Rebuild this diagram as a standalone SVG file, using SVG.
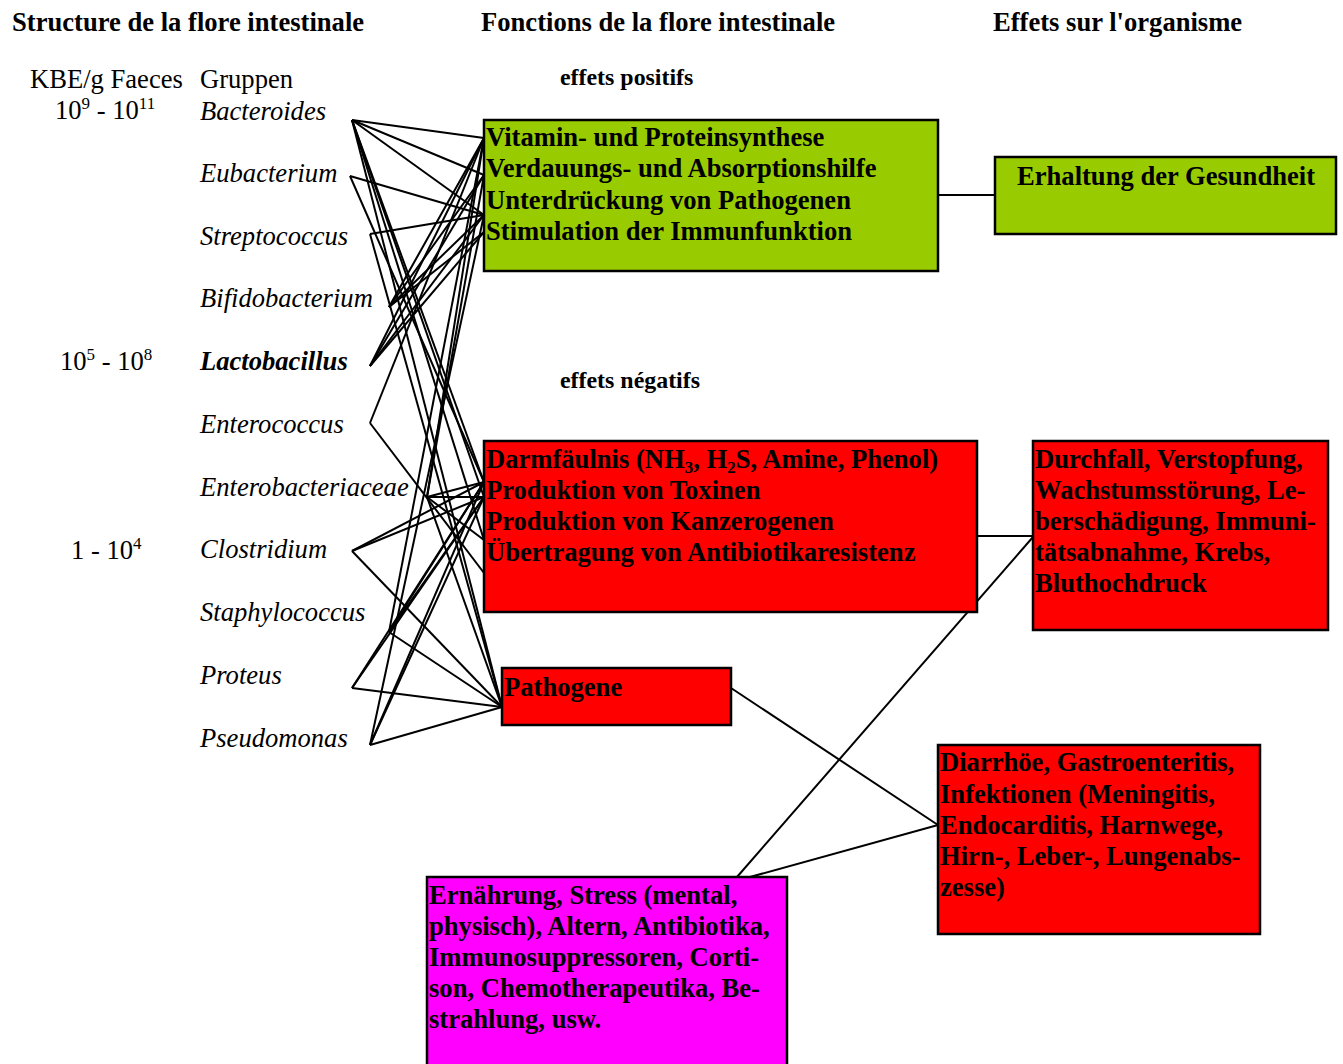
<svg xmlns="http://www.w3.org/2000/svg" width="1343" height="1064" viewBox="0 0 1343 1064">
<style>
text{font-family:"Liberation Serif","Times New Roman",serif;fill:#000}
.h{font-weight:bold;font-size:26.6px}
.b{font-weight:bold;font-size:26.6px}
.s{font-weight:bold;font-size:23.9px}
.r{font-size:26.6px}
.i{font-style:italic;font-size:26.6px}
.sup{font-size:17px}
.box{stroke:#000;stroke-width:2.5}
.c line{stroke:#000;stroke-width:2}
</style>
<rect width="1343" height="1064" fill="#fff"/>
<g id="headers">
<text class="h" x="12" y="31">Structure de la flore intestinale</text>
<text class="h" x="481" y="31">Fonctions de la flore intestinale</text>
<text class="h" x="993" y="31">Effets sur l'organisme</text>
<text class="s" x="560" y="85">effets positifs</text>
<text class="s" x="560" y="388">effets négatifs</text>
</g>
<g id="counts">
<text class="r" x="30" y="88">KBE/g Faeces</text>
<text class="r" x="55" y="119">10<tspan class="sup" dy="-10">9</tspan><tspan dy="10"> - 10</tspan><tspan class="sup" dy="-10">11</tspan></text>
<text class="r" x="60" y="370">10<tspan class="sup" dy="-10">5</tspan><tspan dy="10"> - 10</tspan><tspan class="sup" dy="-10">8</tspan></text>
<text class="r" x="71" y="559">1 - 10<tspan class="sup" dy="-10">4</tspan></text>
<text class="r" x="200" y="88">Gruppen</text>
</g>
<g id="bacteroides"><text class="i" x="200" y="120">Bacteroides</text></g>
<g id="eubacterium"><text class="i" x="200" y="182">Eubacterium</text></g>
<g id="streptococcus"><text class="i" x="200" y="245">Streptococcus</text></g>
<g id="bifidobacterium"><text class="i" x="200" y="307">Bifidobacterium</text></g>
<g id="lactobacillus"><text class="i" x="200" y="370" font-weight="bold">Lactobacillus</text></g>
<g id="enterococcus"><text class="i" x="200" y="433">Enterococcus</text></g>
<g id="enterobacteriaceae"><text class="i" x="200" y="496">Enterobacteriaceae</text></g>
<g id="clostridium"><text class="i" x="200" y="558">Clostridium</text></g>
<g id="staphylococcus"><text class="i" x="200" y="621">Staphylococcus</text></g>
<g id="proteus"><text class="i" x="200" y="684">Proteus</text></g>
<g id="pseudomonas"><text class="i" x="200" y="747">Pseudomonas</text></g>

<g id="connectors" class="c">
<line x1="352" y1="120" x2="484" y2="138"/>
<line x1="352" y1="120" x2="484" y2="175"/>
<line x1="352" y1="120" x2="484" y2="215"/>
<line x1="352" y1="120" x2="484" y2="482"/>
<line x1="352" y1="120" x2="484" y2="497"/>
<line x1="352" y1="120" x2="484" y2="540"/>
<line x1="352" y1="120" x2="502" y2="707"/>
<line x1="350" y1="176" x2="484" y2="215"/>
<line x1="350" y1="176" x2="484" y2="482"/>
<line x1="370" y1="234" x2="484" y2="215"/>
<line x1="370" y1="234" x2="502" y2="707"/>
<line x1="389" y1="307" x2="484" y2="138"/>
<line x1="389" y1="307" x2="484" y2="175"/>
<line x1="389" y1="307" x2="484" y2="215"/>
<line x1="389" y1="307" x2="484" y2="232"/>
<line x1="370" y1="366" x2="484" y2="138"/>
<line x1="370" y1="366" x2="484" y2="175"/>
<line x1="370" y1="366" x2="484" y2="215"/>
<line x1="370" y1="366" x2="484" y2="232"/>
<line x1="370" y1="423" x2="484" y2="138"/>
<line x1="370" y1="423" x2="484" y2="573"/>
<line x1="427" y1="497" x2="484" y2="138"/>
<line x1="427" y1="497" x2="484" y2="175"/>
<line x1="427" y1="497" x2="484" y2="482"/>
<line x1="427" y1="497" x2="484" y2="497"/>
<line x1="427" y1="497" x2="484" y2="540"/>
<line x1="427" y1="497" x2="502" y2="707"/>
<line x1="352" y1="551" x2="484" y2="482"/>
<line x1="352" y1="551" x2="484" y2="497"/>
<line x1="352" y1="551" x2="502" y2="707"/>
<line x1="389" y1="632" x2="484" y2="138"/>
<line x1="389" y1="632" x2="484" y2="482"/>
<line x1="389" y1="632" x2="484" y2="497"/>
<line x1="389" y1="632" x2="502" y2="707"/>
<line x1="352" y1="688" x2="484" y2="482"/>
<line x1="352" y1="688" x2="484" y2="497"/>
<line x1="352" y1="688" x2="502" y2="707"/>
<line x1="370" y1="745" x2="484" y2="215"/>
<line x1="370" y1="745" x2="484" y2="482"/>
<line x1="370" y1="745" x2="484" y2="497"/>
<line x1="370" y1="745" x2="502" y2="707"/>
<line x1="938" y1="195" x2="995" y2="195"/>
<line x1="977" y1="536" x2="1033" y2="536"/>
<line x1="737" y1="877" x2="1033" y2="537"/>
<line x1="731" y1="688" x2="938" y2="825"/>
<line x1="750" y1="877" x2="938" y2="825"/>
</g>

<g id="positive">
<rect class="box" x="484" y="120" width="454" height="151" fill="#99cc00"/>
<text class="b" x="486" y="146">Vitamin- und Proteinsynthese</text>
<text class="b" x="486" y="177">Verdauungs- und Absorptionshilfe</text>
<text class="b" x="486" y="209">Unterdrückung von Pathogenen</text>
<text class="b" x="486" y="240">Stimulation der Immunfunktion</text>
</g>
<g id="health">
<rect class="box" x="995" y="157" width="341" height="77" fill="#99cc00"/>
<text class="b" x="1017" y="185">Erhaltung der Gesundheit</text>
</g>
<g id="negative">
<rect class="box" x="484" y="441" width="493" height="171" fill="#ff0000"/>
<text class="b" x="486" y="468">Darmfäulnis (NH<tspan font-size="17" dy="5">3</tspan><tspan dy="-5">, H</tspan><tspan font-size="17" dy="5">2</tspan><tspan dy="-5">S, Amine, Phenol)</tspan></text>
<text class="b" x="486" y="499">Produktion von Toxinen</text>
<text class="b" x="486" y="530">Produktion von Kanzerogenen</text>
<text class="b" x="486" y="561">Übertragung von Antibiotikaresistenz</text>
</g>
<g id="effects">
<rect class="box" x="1033" y="441" width="295" height="189" fill="#ff0000"/>
<text class="b" x="1035" y="468">Durchfall, Verstopfung,</text>
<text class="b" x="1035" y="499">Wachstumsstörung, Le-</text>
<text class="b" x="1035" y="530">berschädigung, Immuni-</text>
<text class="b" x="1035" y="561">tätsabnahme, Krebs,</text>
<text class="b" x="1035" y="592">Bluthochdruck</text>
</g>
<g id="pathogene">
<rect class="box" x="502" y="668" width="229" height="57" fill="#ff0000"/>
<text class="b" x="504" y="696">Pathogene</text>
</g>
<g id="infections">
<rect class="box" x="938" y="745" width="322" height="189" fill="#ff0000"/>
<text class="b" x="940" y="771">Diarrhöe, Gastroenteritis,</text>
<text class="b" x="940" y="803">Infektionen (Meningitis,</text>
<text class="b" x="940" y="834">Endocarditis, Harnwege,</text>
<text class="b" x="940" y="865">Hirn-, Leber-, Lungenabs-</text>
<text class="b" x="940" y="896">zesse)</text>
</g>
<g id="factors">
<rect class="box" x="427" y="877" width="360" height="200" fill="#ff00ff"/>
<text class="b" x="429" y="904">Ernährung, Stress (mental,</text>
<text class="b" x="429" y="935">physisch), Altern, Antibiotika,</text>
<text class="b" x="429" y="966">Immunosuppressoren, Corti-</text>
<text class="b" x="429" y="997">son, Chemotherapeutika, Be-</text>
<text class="b" x="429" y="1028">strahlung, usw.</text>
</g>
</svg>
